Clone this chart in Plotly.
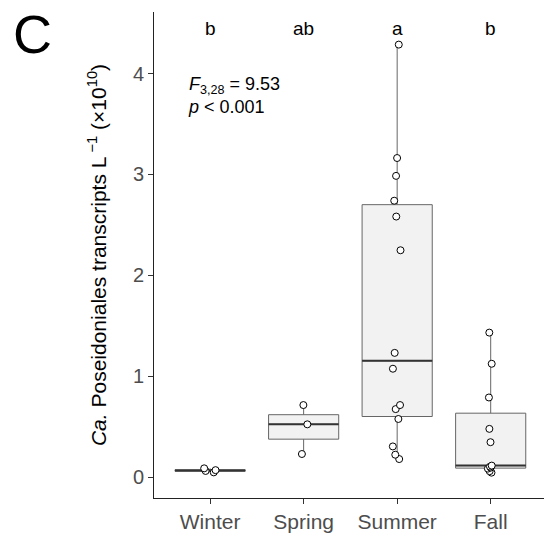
import numpy as np
import plotly.graph_objects as go

seasons = ["Winter", "Spring", "Summer", "Fall"]
winter = [0.048, 0.062, 0.070, 0.088]
spring = [0.23, 0.524, 0.715]
summer = [4.287, 3.163, 2.986, 2.74, 2.583, 2.249, 1.232, 1.075, 0.715, 0.675, 0.577, 0.305, 0.223, 0.18]
fall = [1.433, 1.124, 0.79, 0.479, 0.347, 0.115, 0.105, 0.095, 0.085, 0.06, 0.045]
letters = ["b", "ab", "a", "b"]
y_ticks = [0, 1, 2, 3, 4]

groups = [winter, spring, summer, fall]
pos = list(range(1, len(seasons) + 1))
xs = [p for p, g in zip(pos, groups) for _ in g]
ys = [v for g in groups for v in g]

# ggplot-style (R type 7) box statistics
q1s, meds, q3s, lows, highs = [], [], [], [], []
for g in groups:
    a = np.asarray(g, dtype=float)
    q1, md, q3 = np.percentile(a, [25, 50, 75])
    iqr = q3 - q1
    lo = a[a >= q1 - 1.5 * iqr].min()
    hi = a[a <= q3 + 1.5 * iqr].max()
    q1s.append(q1); meds.append(md); q3s.append(q3); lows.append(lo); highs.append(hi)

FONT = "Liberation Sans, Arial, Helvetica, sans-serif"
BW = 0.75

fig = go.Figure()
# boxes
fig.add_trace(go.Box(
    x=pos, q1=q1s, median=meds, q3=q3s, lowerfence=lows, upperfence=highs,
    width=BW, whiskerwidth=0, fillcolor="#f2f2f2",
    line=dict(color="#666666", width=1), showlegend=False, hoverinfo="skip"))
# medians (thicker dark line)
fig.add_trace(go.Box(
    x=pos, q1=meds, median=meds, q3=meds, lowerfence=meds, upperfence=meds,
    width=BW, whiskerwidth=0, fillcolor="rgba(0,0,0,0)",
    line=dict(color="#333333", width=2), showlegend=False, hoverinfo="skip"))
# points
fig.add_trace(go.Box(
    x=xs, y=ys, boxpoints="all", jitter=0.2, pointpos=0, width=BW, whiskerwidth=0,
    fillcolor="rgba(0,0,0,0)", line=dict(color="rgba(0,0,0,0)", width=0),
    marker=dict(symbol="circle", size=7, color="white", line=dict(color="black", width=1)),
    showlegend=False))

for p, lab in zip(pos, letters):
    fig.add_annotation(x=p, y=4.45, xref="x", yref="y", text=lab, showarrow=False,
                       xanchor="center", yanchor="middle",
                       font=dict(family=FONT, size=19, color="black"))

fig.add_annotation(
    x=(186 - 154) / 390, y=1 - (72 - 12) / 490,
    xref="paper", yref="paper", xanchor="left", yanchor="top", align="left",
    text="<i>F</i><sub>3,28</sub> = 9.53<br><i>p</i> < 0.001", showarrow=False,
    font=dict(family=FONT, size=18, color="black"))

fig.add_annotation(
    x=-(154 - 32) / 390, y=1 - (34 - 12) / 490, xref="paper", yref="paper",
    xanchor="center", yanchor="middle",
    text="C", showarrow=False, font=dict(family=FONT, size=54, color="black"))

fig.update_layout(
    width=544, height=533,
    margin=dict(l=154, r=0, t=12, b=31),
    plot_bgcolor="white", paper_bgcolor="white",
    font=dict(family=FONT),
    xaxis=dict(range=[0.4, 4.57], tickvals=pos, ticktext=seasons, showgrid=False,
               zeroline=False, showline=True, linecolor="#222222", linewidth=1,
               ticks="outside", ticklen=5, tickcolor="#333333",
               tickfont=dict(family=FONT, size=21, color="#4d4d4d")),
    yaxis=dict(range=[-0.206, 4.61], tickvals=y_ticks, showgrid=False, zeroline=False,
               showline=True, linecolor="#222222", linewidth=1,
               ticks="outside", ticklen=5, tickcolor="#333333",
               tickfont=dict(family=FONT, size=20, color="#4d4d4d"),
               title=dict(text="<i>Ca.</i> Poseidoniales transcripts L<sup> \u22121</sup> (\u00d710<sup>10</sup>)",
                          font=dict(family=FONT, size=21, color="black"), standoff=20)),
)

fig.write_html("out.html")
